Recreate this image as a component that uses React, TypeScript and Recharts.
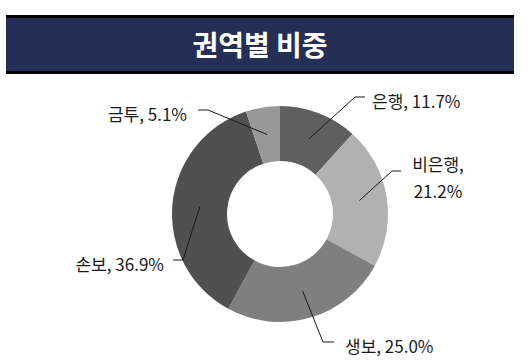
import { PieChart, Pie, Cell } from 'recharts'

const sectors = ['은행', '비은행', '생보', '손보', '금투']
const shares = [11.7, 21.2, 25.0, 36.9, 5.1]
const sectorColors = ['#5f5f5f', '#b1b1b1', '#7f7f7f', '#505050', '#989898']

// leader elbow (relative to pie centre), horizontal tail, text offset
const labelLayout = [
  { ex: 75, ey: -117, hx: 10, tx: 7, lines: 1 },
  { ex: 112, ey: -43, hx: 9, tx: 37, lines: 2 },
  { ex: 43, ey: 128, hx: 11, tx: 11, lines: 1 },
  { ex: -97, ey: 46, hx: -10, tx: -9, lines: 1 },
  { ex: -72, ey: -104, hx: -10, tx: -11, lines: 1 },
]

const chartData = sectors.map((name, i) => ({ name, value: shares[i] }))

const RADIAN = Math.PI / 180
const FONT = '"Noto Sans CJK KR", "Noto Sans", sans-serif'

function renderLabel(props: any) {
  const { cx, cy, midAngle, innerRadius, outerRadius, index } = props
  const r = (innerRadius + outerRadius) / 2
  const sx = cx + r * Math.cos(-midAngle * RADIAN)
  const sy = cy + r * Math.sin(-midAngle * RADIAN)
  const lay = labelLayout[index]
  const ex = cx + lay.ex
  const ey = cy + lay.ey
  const hx = ex + lay.hx
  const tx = hx + lay.tx
  const d = chartData[index]
  const anchor = lay.lines === 2 ? 'middle' : lay.hx > 0 ? 'start' : 'end'
  const text = `${d.name}, ${d.value.toFixed(1)}%`
  return (
    <g>
      <polyline points={`${sx},${sy} ${ex},${ey} ${hx},${ey}`} fill="none" stroke="#1a1a1a" strokeWidth={1} />
      {lay.lines === 2 ? (
        <text x={tx} y={ey + 5} textAnchor={anchor} fontFamily={FONT} fontSize={17} fill="#1a1a1a">
          <tspan x={tx} dy={-13} dominantBaseline="central">{`${d.name},`}</tspan>
          <tspan x={tx} dy={27} dominantBaseline="central">{`${d.value.toFixed(1)}%`}</tspan>
        </text>
      ) : (
        <text x={tx} y={ey + 3} textAnchor={anchor} dominantBaseline="central" fontFamily={FONT} fontSize={17} fill="#1a1a1a">
          {text}
        </text>
      )}
    </g>
  )
}

export default function App() {
  return (
    <div style={{ position: 'fixed', left: 0, top: 0, width: 528, height: 360, background: '#fff' }}>
      <div
        style={{
          position: 'absolute',
          left: 6,
          top: 15,
          width: 508,
          height: 53,
          background: '#252f55',
          borderTop: '3px solid #000',
          borderBottom: '3px solid #000',
          color: '#fff',
          fontFamily: FONT,
          fontWeight: 700,
          fontSize: 28,
          lineHeight: '53px',
          textAlign: 'center',
        }}
      >
        권역별 비중
      </div>
      <div style={{ position: 'absolute', left: 0, top: 0 }}>
        <PieChart width={528} height={360}>
          <Pie
            data={chartData}
            dataKey="value"
            nameKey="name"
            cx={275}
            cy={209}
            innerRadius={53}
            outerRadius={108}
            startAngle={90}
            endAngle={-270}
            stroke="none"
            label={renderLabel}
            labelLine={false}
            isAnimationActive={false}
          >
            {chartData.map((d, i) => (
              <Cell key={d.name} fill={sectorColors[i]} />
            ))}
          </Pie>
        </PieChart>
      </div>
    </div>
  )
}
